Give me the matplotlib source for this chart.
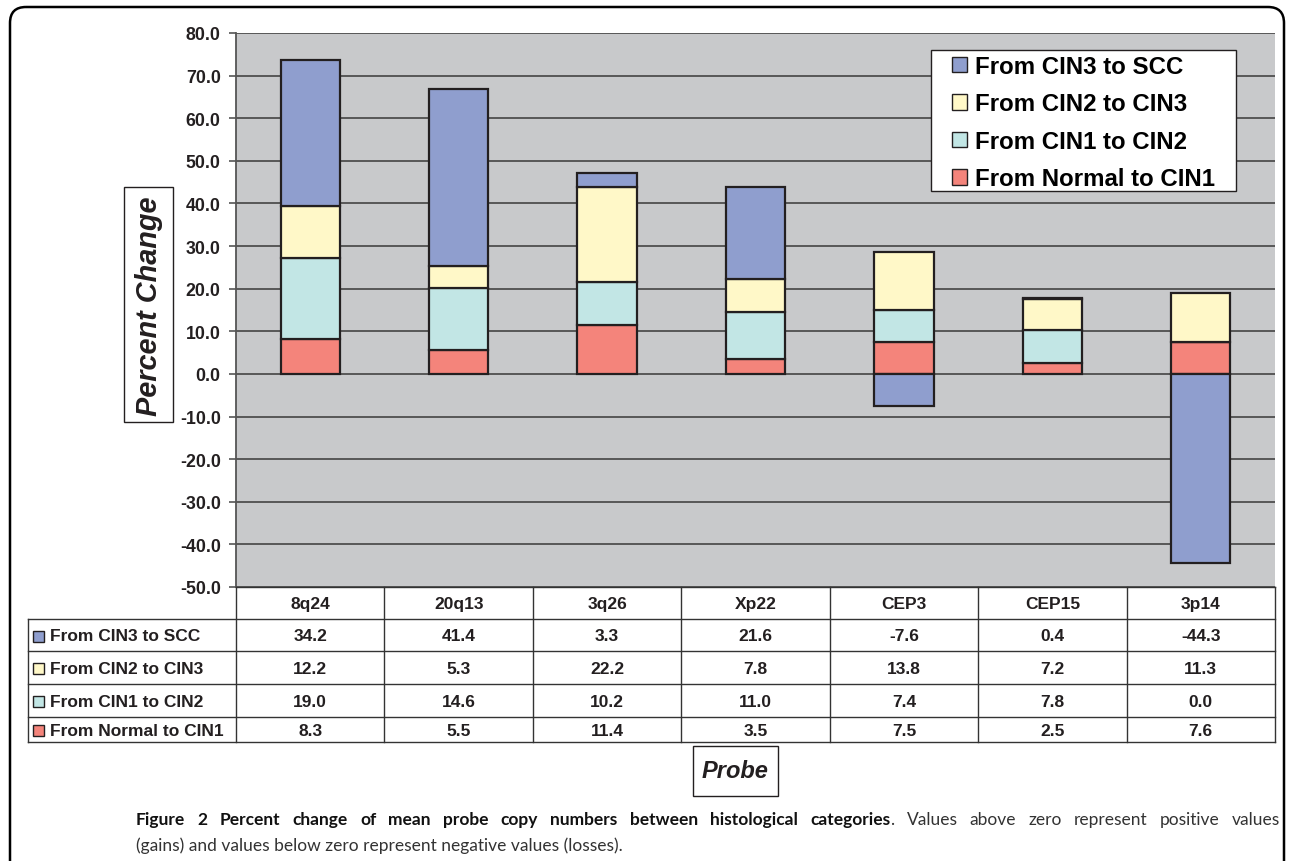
import matplotlib.pyplot as plt
from matplotlib.patches import Rectangle, FancyBboxPatch
import numpy as np

probes = ['8q24', '20q13', '3q26', 'Xp22', 'CEP3', 'CEP15', '3p14']
series_names = ['From Normal to CIN1', 'From CIN1 to CIN2', 'From CIN2 to CIN3', 'From CIN3 to SCC']
normal_cin1 = [8.3, 5.5, 11.4, 3.5, 7.5, 2.5, 7.6]
cin1_cin2 = [19.0, 14.6, 10.2, 11.0, 7.4, 7.8, 0.0]
cin2_cin3 = [12.2, 5.3, 22.2, 7.8, 13.8, 7.2, 11.3]
cin3_scc = [34.2, 41.4, 3.3, 21.6, -7.6, 0.4, -44.3]
series_values = [normal_cin1, cin1_cin2, cin2_cin3, cin3_scc]
colors = ['#F4847B', '#C2E6E5', '#FFF8C8', '#8F9ECE']

cap_bold = 'Figure 2 Percent change of mean probe copy numbers between histological categories'
cap_rest1 = 'Values above zero represent positive values'
cap_line2 = '(gains) and values below zero represent negative values (losses).'

W, H = 1290, 862
FONT = 'Liberation Sans'
CAP_FONT = 'Lato'
CAP_SIZE = 12.5
EDGE = '#231F20'

fig = plt.figure(figsize=(W / 100, H / 100), dpi=100)

# plot area (pixel box 236..1275 x 34..588)
PL, PR, PT, PB = 236, 1275, 34, 588
ax = fig.add_axes([PL / W, 1 - PB / H, (PR - PL) / W, (PB - PT) / H])
ax.set_facecolor('#C8C9CB')
ax.set_xlim(-0.5, len(probes) - 0.5)
ax.set_ylim(-50, 80)
yt = np.arange(-50, 81, 10)
ax.set_yticks(yt)
ax.set_yticklabels(['%.1f' % v for v in yt], fontfamily=FONT, fontweight='bold',
                   fontsize=12.8, color=EDGE)
ax.set_xticks([])
ax.tick_params(axis='y', length=5, width=1.2, color='#555555', pad=6)
ax.grid(axis='y', color='#444444', linewidth=1.2)
ax.set_axisbelow(True)
for s in ['top', 'right', 'bottom']:
    ax.spines[s].set_visible(False)
ax.spines['left'].set_color('#555555')
ax.spines['left'].set_linewidth(1.3)

# stacked bars, positives and negatives stacked separately (like Excel)
x = np.arange(len(probes))
pos_bottom = np.zeros(len(probes))
neg_bottom = np.zeros(len(probes))
handles = []
for name, vals, col in zip(series_names, series_values, colors):
    vals = np.array(vals)
    bottom = np.where(vals >= 0, pos_bottom, neg_bottom)
    b = ax.bar(x, vals, width=0.4, bottom=bottom, color=col, edgecolor=EDGE,
               linewidth=1.6, label=name, zorder=3)
    handles.append(b)
    pos_bottom = pos_bottom + np.where(vals >= 0, vals, 0)
    neg_bottom = neg_bottom + np.where(vals < 0, vals, 0)

def to_ax(px, py):
    return (px - PL) / (PR - PL), (PB - py) / (PB - PT)

# legend: white box drawn separately (wider side padding than matplotlib allows)
bx0, by0 = to_ax(931, 192)
bx1, by1 = to_ax(1236, 51)
ax.add_patch(Rectangle((bx0, by0), bx1 - bx0, by1 - by0, transform=ax.transAxes,
                       facecolor='white', edgecolor=EDGE, lw=1.0, zorder=6))
leg = ax.legend(handles[::-1], series_names[::-1], loc='upper left',
                bbox_to_anchor=to_ax(952, 56), borderaxespad=0, frameon=False,
                prop={'family': FONT, 'weight': 'bold', 'size': 17.3},
                handlelength=0.62, handleheight=0.62, handletextpad=0.33,
                labelspacing=0.6, borderpad=0)
leg.set_zorder(7)
for h in leg.legend_handles:
    h.set_linewidth(1.0)

# overlay in pixel coordinates for the table, boxes and frame
ov = fig.add_axes([0, 0, 1, 1], zorder=5)
ov.set_xlim(0, W)
ov.set_ylim(H, 0)
ov.axis('off')

# outer rounded frame
ov.add_patch(FancyBboxPatch((10, 8), 1274, 900, boxstyle='round,pad=0,rounding_size=16',
                            facecolor='none', edgecolor='black', linewidth=1.8))

# data table
col_w = (PR - PL) / len(probes)
col_edges = [PL + i * col_w for i in range(len(probes) + 1)]
row_edges = [588, 620, 652, 685, 718, 743]
TL = 28
tcol = '#333333'
ov.plot([PL, PR], [row_edges[0], row_edges[0]], color=tcol, lw=1.0)
for r in row_edges[1:]:
    ov.plot([TL, PR], [r, r], color=tcol, lw=1.0)
for c in col_edges:
    ov.plot([c, c], [row_edges[0], row_edges[-1]], color=tcol, lw=1.0)
ov.plot([TL, TL], [row_edges[1], row_edges[-1]], color=tcol, lw=1.0)

tfont = dict(family=FONT, weight='bold', size=12.5, color=EDGE)
for i, p in enumerate(probes):
    ov.text((col_edges[i] + col_edges[i + 1]) / 2, (row_edges[0] + row_edges[1]) / 2 + 1, p,
            ha='center', va='center', **tfont)
table_rows = list(zip(series_names, series_values, colors))[::-1]
for j, (name, vals, col) in enumerate(table_rows):
    yc = (row_edges[j + 1] + row_edges[j + 2]) / 2 + 1
    ov.add_patch(Rectangle((33, yc - 5.5), 11, 11, facecolor=col, edgecolor=EDGE, lw=1.0))
    ov.text(50, yc, name, ha='left', va='center', **tfont)
    for i, v in enumerate(vals):
        ov.text((col_edges[i] + col_edges[i + 1]) / 2, yc, '%.1f' % v,
                ha='center', va='center', **tfont)

# axis title boxes
ov.add_patch(Rectangle((124, 188), 49, 235, facecolor='white', edgecolor=EDGE, lw=1.0))
ov.text(149, 306, 'Percent Change', rotation=90, ha='center', va='center',
        family=FONT, weight='bold', style='italic', size=20.8, color=EDGE)
ov.add_patch(Rectangle((693, 747), 85, 50, facecolor='white', edgecolor=EDGE, lw=1.0))
ov.text(735.5, 772, 'Probe', ha='center', va='center',
        family=FONT, weight='bold', style='italic', size=17, color=EDGE)

# caption, first line justified between x=136 and x=1280
renderer = fig.canvas.get_renderer()

def text_w(s, weight):
    t = ov.text(0, 0, s, family=CAP_FONT, weight=weight, size=CAP_SIZE)
    w = t.get_window_extent(renderer).width
    t.remove()
    return w

bold_c = '#111111'
reg_c = '#333333'
units = [[(w, 'bold', bold_c)] for w in cap_bold.split()]
units[-1].append(('.', 'normal', reg_c))
units += [[(w, 'normal', reg_c)] for w in cap_rest1.split()]
unit_w = [sum(text_w(s, wt) for s, wt, c in u) for u in units]
gap = (1280 - 136 - sum(unit_w)) / (len(units) - 1)
xc = 136
for u, uw in zip(units, unit_w):
    xx = xc
    for s, wt, c in u:
        ov.text(xx, 820, s, ha='left', va='center', family=CAP_FONT, weight=wt,
                size=CAP_SIZE, color=c)
        xx += text_w(s, wt)
    xc += uw + gap
ov.text(136, 846, cap_line2, ha='left', va='center', family=CAP_FONT,
        size=CAP_SIZE, color=reg_c)

fig.savefig('out.png', dpi=100)
